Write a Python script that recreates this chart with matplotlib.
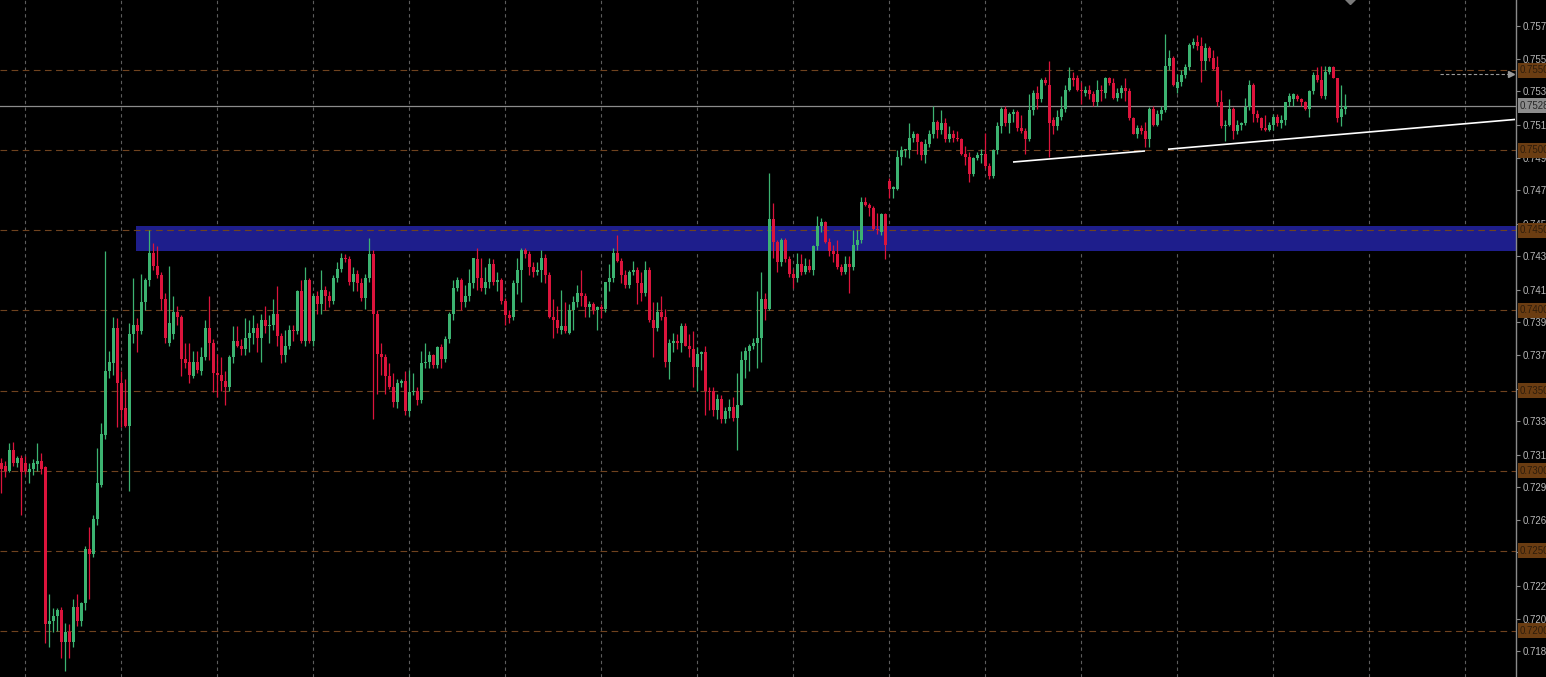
import numpy as np
import matplotlib
matplotlib.use("Agg")
import matplotlib.pyplot as plt
from matplotlib.transforms import blended_transform_factory, offset_copy

plt.rcParams["font.family"] = ["Liberation Sans", "DejaVu Sans"]

# ---------------- data (prices) ----------------
opens = [
    0.7305, 0.7303, 0.7300, 0.7313, 0.7305, 0.7308, 0.7305, 0.7299, 0.7301, 0.7304,
    0.7306, 0.7302, 0.7204, 0.7206, 0.7209, 0.7213, 0.7193, 0.7199, 0.7193, 0.7215,
    0.7206, 0.7217, 0.7251, 0.7248, 0.7270, 0.7291, 0.7322, 0.7362, 0.7367, 0.7389,
    0.7355, 0.7339, 0.7328, 0.7385, 0.7391, 0.7387, 0.7405, 0.7419, 0.7436, 0.7428,
    0.7422, 0.7407, 0.7380, 0.7385, 0.7399, 0.7396, 0.7370, 0.7368, 0.7359, 0.7368,
    0.7362, 0.7371, 0.7389, 0.7380, 0.7361, 0.7360, 0.7356, 0.7352, 0.7371, 0.7381,
    0.7378, 0.7376, 0.7383, 0.7386, 0.7389, 0.7383, 0.7394, 0.7390, 0.7391, 0.7398,
    0.7384, 0.7372, 0.7378, 0.7388, 0.7387, 0.7412, 0.7381, 0.7419, 0.7381, 0.7409,
    0.7404, 0.7413, 0.7409, 0.7406, 0.7420, 0.7426, 0.7433, 0.7432, 0.7418, 0.7423,
    0.7417, 0.7408, 0.7420, 0.7435, 0.7398, 0.7373, 0.7371, 0.7359, 0.7352, 0.7343,
    0.7355, 0.7356, 0.7337, 0.7349, 0.7350, 0.7344, 0.7367, 0.7368, 0.7372, 0.7366,
    0.7377, 0.7370, 0.7382, 0.7398, 0.7414, 0.7419, 0.7405, 0.7409, 0.7417, 0.7432,
    0.7420, 0.7414, 0.7418, 0.7429, 0.7418, 0.7419, 0.7406, 0.7397, 0.7396, 0.7417,
    0.7425, 0.7438, 0.7435, 0.7427, 0.7424, 0.7425, 0.7433, 0.7422, 0.7396, 0.7394,
    0.7388, 0.7390, 0.7386, 0.7400, 0.7405, 0.7411, 0.7409, 0.7402, 0.7404, 0.7400,
    0.7402, 0.7401, 0.7418, 0.7420, 0.7436, 0.7431, 0.7422, 0.7416, 0.7424, 0.7425,
    0.7417, 0.7411, 0.7425, 0.7394, 0.7389, 0.7399, 0.7396, 0.7368, 0.7380, 0.7381,
    0.7380, 0.7390, 0.7378, 0.7376, 0.7365, 0.7373, 0.7374, 0.7350, 0.7350, 0.7338,
    0.7345, 0.7332, 0.7337, 0.7340, 0.7333, 0.7341, 0.7369, 0.7375, 0.7378, 0.7380,
    0.7383, 0.7407, 0.7401, 0.7457, 0.7443, 0.7430, 0.7444, 0.7432, 0.7423, 0.7420,
    0.7429, 0.7424, 0.7428, 0.7425, 0.7440, 0.7453, 0.7455, 0.7443, 0.7437, 0.7435,
    0.7427, 0.7424, 0.7429, 0.7427, 0.7441, 0.7444, 0.7468, 0.7466, 0.7464, 0.7451,
    0.7449, 0.7460, 0.7481, 0.7476, 0.7476, 0.7496, 0.7500, 0.7500, 0.7508, 0.7510,
    0.7505, 0.7497, 0.7504, 0.7510, 0.7518, 0.7513, 0.7517, 0.7507, 0.7510, 0.7508,
    0.7507, 0.7498, 0.7496, 0.7485, 0.7495, 0.7497, 0.7498, 0.7490, 0.7484, 0.7500,
    0.7515, 0.7526, 0.7517, 0.7523, 0.7524, 0.7514, 0.7512, 0.7507, 0.7525, 0.7536,
    0.7532, 0.7544, 0.7541, 0.7519, 0.7515, 0.7521, 0.7526, 0.7538, 0.7545, 0.7545,
    0.7538, 0.7536, 0.7538, 0.7535, 0.7530, 0.7538, 0.7536, 0.7545, 0.7542, 0.7533,
    0.7536, 0.7539, 0.7537, 0.7520, 0.7510, 0.7514, 0.7512, 0.7507, 0.7526, 0.7516,
    0.7523, 0.7525, 0.7553, 0.7558, 0.7539, 0.7543, 0.7547, 0.7552, 0.7566, 0.7568,
    0.7565, 0.7556, 0.7564, 0.7558, 0.7552, 0.7530, 0.7515, 0.7516, 0.7526, 0.7512,
    0.7516, 0.7517, 0.7527, 0.7541, 0.7523, 0.7520, 0.7514, 0.7513, 0.7516, 0.7521,
    0.7517, 0.7519, 0.7530, 0.7532, 0.7534, 0.7532, 0.7530, 0.7526, 0.7537, 0.7547,
    0.7544, 0.7534, 0.7549, 0.7552, 0.7545, 0.7521, 0.7526,
]
highs = [
    0.7308, 0.7306, 0.7317, 0.7318, 0.7309, 0.7310, 0.7309, 0.7305, 0.7307, 0.7317,
    0.7311, 0.7303, 0.7223, 0.7214, 0.7214, 0.7215, 0.7205, 0.7204, 0.7220, 0.7223,
    0.7218, 0.7253, 0.7265, 0.7272, 0.7314, 0.7330, 0.7437, 0.7375, 0.7396, 0.7395,
    0.7362, 0.7357, 0.7392, 0.7420, 0.7395, 0.7423, 0.7420, 0.7450, 0.7442, 0.7440,
    0.7424, 0.7411, 0.7428, 0.7409, 0.7403, 0.7397, 0.7380, 0.7380, 0.7375, 0.7375,
    0.7377, 0.7394, 0.7409, 0.7382, 0.7373, 0.7371, 0.7362, 0.7372, 0.7390, 0.7390,
    0.7382, 0.7395, 0.7394, 0.7397, 0.7392, 0.7398, 0.7403, 0.7397, 0.7407, 0.7415,
    0.7386, 0.7388, 0.7391, 0.7391, 0.7413, 0.7419, 0.7427, 0.7420, 0.7411, 0.7412,
    0.7425, 0.7415, 0.7412, 0.7422, 0.7430, 0.7436, 0.7435, 0.7434, 0.7427, 0.7425,
    0.7420, 0.7423, 0.7445, 0.7438, 0.7400, 0.7380, 0.7373, 0.7367, 0.7361, 0.7357,
    0.7357, 0.7362, 0.7363, 0.7361, 0.7352, 0.7375, 0.7380, 0.7375, 0.7373, 0.7378,
    0.7379, 0.7384, 0.7399, 0.7419, 0.7421, 0.7420, 0.7416, 0.7426, 0.7433, 0.7439,
    0.7433, 0.7427, 0.7433, 0.7432, 0.7424, 0.7420, 0.7408, 0.7400, 0.7419, 0.7433,
    0.7439, 0.7439, 0.7437, 0.7430, 0.7430, 0.7438, 0.7435, 0.7424, 0.7407, 0.7403,
    0.7413, 0.7405, 0.7404, 0.7409, 0.7416, 0.7425, 0.7411, 0.7406, 0.7405, 0.7403,
    0.7404, 0.7418, 0.7429, 0.7439, 0.7447, 0.7433, 0.7425, 0.7425, 0.7431, 0.7427,
    0.7424, 0.7431, 0.7427, 0.7405, 0.7405, 0.7409, 0.7401, 0.7382, 0.7386, 0.7385,
    0.7392, 0.7392, 0.7385, 0.7387, 0.7377, 0.7375, 0.7378, 0.7352, 0.7352, 0.7348,
    0.7347, 0.7340, 0.7345, 0.7346, 0.7361, 0.7375, 0.7377, 0.7379, 0.7383, 0.7412,
    0.7424, 0.7411, 0.7486, 0.7467, 0.7444, 0.7445, 0.7445, 0.7434, 0.7426, 0.7436,
    0.7435, 0.7433, 0.7432, 0.7441, 0.7459, 0.7458, 0.7456, 0.7445, 0.7441, 0.7444,
    0.7429, 0.7434, 0.7434, 0.7450, 0.7450, 0.7471, 0.7471, 0.7467, 0.7465, 0.7461,
    0.7461, 0.7461, 0.7483, 0.7478, 0.7500, 0.7503, 0.7501, 0.7517, 0.7512, 0.7511,
    0.7506, 0.7507, 0.7513, 0.7528, 0.7519, 0.7525, 0.7520, 0.7515, 0.7513, 0.7512,
    0.7508, 0.7503, 0.7499, 0.7496, 0.7499, 0.7501, 0.7511, 0.7492, 0.7501, 0.7518,
    0.7527, 0.7528, 0.7524, 0.7526, 0.7525, 0.7522, 0.7514, 0.7535, 0.7538, 0.7540,
    0.7545, 0.7546, 0.7556, 0.7521, 0.7525, 0.7534, 0.7541, 0.7552, 0.7549, 0.7547,
    0.7543, 0.7540, 0.7541, 0.7537, 0.7544, 0.7541, 0.7546, 0.7546, 0.7545, 0.7539,
    0.7541, 0.7545, 0.7539, 0.7521, 0.7516, 0.7516, 0.7518, 0.7527, 0.7528, 0.7525,
    0.7528, 0.7573, 0.7563, 0.7559, 0.7548, 0.7550, 0.7554, 0.7567, 0.7570, 0.7572,
    0.7571, 0.7567, 0.7565, 0.7563, 0.7559, 0.7538, 0.7519, 0.7532, 0.7527, 0.7519,
    0.7518, 0.7533, 0.7544, 0.7542, 0.7525, 0.7521, 0.7522, 0.7518, 0.7523, 0.7523,
    0.7522, 0.7530, 0.7536, 0.7536, 0.7535, 0.7533, 0.7531, 0.7538, 0.7549, 0.7552,
    0.7553, 0.7553, 0.7553, 0.7553, 0.7545, 0.7541, 0.7535,
]
lows = [
    0.7286, 0.7296, 0.7299, 0.7303, 0.7302, 0.7272, 0.7298, 0.7292, 0.7297, 0.7300,
    0.7298, 0.7192, 0.7190, 0.7199, 0.7200, 0.7183, 0.7175, 0.7183, 0.7190, 0.7203,
    0.7203, 0.7213, 0.7220, 0.7246, 0.7266, 0.7290, 0.7320, 0.7358, 0.7360, 0.7327,
    0.7327, 0.7327, 0.7287, 0.7380, 0.7374, 0.7385, 0.7400, 0.7415, 0.7425, 0.7420,
    0.7400, 0.7380, 0.7378, 0.7382, 0.7391, 0.7359, 0.7364, 0.7355, 0.7358, 0.7361,
    0.7360, 0.7369, 0.7369, 0.7349, 0.7346, 0.7350, 0.7341, 0.7350, 0.7367, 0.7377,
    0.7372, 0.7372, 0.7374, 0.7379, 0.7374, 0.7368, 0.7386, 0.7380, 0.7388, 0.7378,
    0.7367, 0.7368, 0.7376, 0.7381, 0.7385, 0.7380, 0.7378, 0.7380, 0.7378, 0.7398,
    0.7398, 0.7400, 0.7402, 0.7404, 0.7418, 0.7424, 0.7430, 0.7416, 0.7412, 0.7412,
    0.7406, 0.7401, 0.7418, 0.7332, 0.7348, 0.7360, 0.7348, 0.7351, 0.7340, 0.7339,
    0.7352, 0.7335, 0.7334, 0.7347, 0.7341, 0.7342, 0.7364, 0.7364, 0.7364, 0.7364,
    0.7364, 0.7368, 0.7380, 0.7394, 0.7412, 0.7400, 0.7402, 0.7406, 0.7414, 0.7413,
    0.7412, 0.7410, 0.7414, 0.7416, 0.7412, 0.7404, 0.7391, 0.7392, 0.7394, 0.7410,
    0.7405, 0.7433, 0.7422, 0.7421, 0.7422, 0.7418, 0.7417, 0.7395, 0.7383, 0.7386,
    0.7385, 0.7386, 0.7385, 0.7388, 0.7402, 0.7403, 0.7396, 0.7396, 0.7398, 0.7388,
    0.7395, 0.7399, 0.7412, 0.7418, 0.7430, 0.7417, 0.7414, 0.7414, 0.7422, 0.7404,
    0.7406, 0.7409, 0.7393, 0.7371, 0.7387, 0.7394, 0.7365, 0.7357, 0.7374, 0.7376,
    0.7374, 0.7378, 0.7371, 0.7352, 0.7350, 0.7363, 0.7335, 0.7338, 0.7334, 0.7332,
    0.7330, 0.7330, 0.7333, 0.7331, 0.7313, 0.7341, 0.7358, 0.7362, 0.7376, 0.7364,
    0.7368, 0.7394, 0.7400, 0.7433, 0.7424, 0.7428, 0.7430, 0.7421, 0.7414, 0.7418,
    0.7422, 0.7423, 0.7424, 0.7422, 0.7438, 0.7449, 0.7442, 0.7434, 0.7430, 0.7426,
    0.7422, 0.7423, 0.7411, 0.7425, 0.7438, 0.7442, 0.7465, 0.7459, 0.7450, 0.7448,
    0.7447, 0.7432, 0.7470, 0.7470, 0.7475, 0.7491, 0.7496, 0.7495, 0.7505, 0.7498,
    0.7494, 0.7492, 0.7502, 0.7508, 0.7508, 0.7510, 0.7505, 0.7505, 0.7505, 0.7506,
    0.7497, 0.7491, 0.7480, 0.7484, 0.7494, 0.7492, 0.7489, 0.7482, 0.7483, 0.7498,
    0.7511, 0.7515, 0.7511, 0.7518, 0.7512, 0.7511, 0.7498, 0.7506, 0.7522, 0.7526,
    0.7530, 0.7541, 0.7496, 0.7510, 0.7513, 0.7519, 0.7524, 0.7537, 0.7540, 0.7537,
    0.7529, 0.7534, 0.7532, 0.7528, 0.7528, 0.7531, 0.7533, 0.7541, 0.7532, 0.7531,
    0.7533, 0.7531, 0.7519, 0.7510, 0.7508, 0.7510, 0.7502, 0.7502, 0.7515, 0.7515,
    0.7519, 0.7524, 0.7550, 0.7540, 0.7536, 0.7540, 0.7545, 0.7550, 0.7564, 0.7563,
    0.7543, 0.7550, 0.7556, 0.7550, 0.7528, 0.7514, 0.7506, 0.7515, 0.7507, 0.7510,
    0.7513, 0.7516, 0.7525, 0.7518, 0.7518, 0.7513, 0.7512, 0.7512, 0.7513, 0.7515,
    0.7514, 0.7516, 0.7528, 0.7528, 0.7531, 0.7528, 0.7525, 0.7521, 0.7535, 0.7543,
    0.7533, 0.7532, 0.7548, 0.7545, 0.7518, 0.7515, 0.7523,
]
closes = [
    0.7301, 0.7300, 0.7313, 0.7305, 0.7308, 0.7299, 0.7300, 0.7301, 0.7305, 0.7306,
    0.7301, 0.7204, 0.7206, 0.7209, 0.7213, 0.7193, 0.7199, 0.7193, 0.7215, 0.7206,
    0.7217, 0.7251, 0.7248, 0.7270, 0.7292, 0.7323, 0.7362, 0.7368, 0.7389, 0.7355,
    0.7338, 0.7328, 0.7385, 0.7391, 0.7387, 0.7405, 0.7419, 0.7436, 0.7428, 0.7422,
    0.7407, 0.7383, 0.7392, 0.7399, 0.7396, 0.7370, 0.7367, 0.7360, 0.7368, 0.7363,
    0.7371, 0.7389, 0.7380, 0.7361, 0.7360, 0.7356, 0.7352, 0.7371, 0.7381, 0.7378,
    0.7376, 0.7383, 0.7386, 0.7389, 0.7383, 0.7394, 0.7390, 0.7391, 0.7398, 0.7384,
    0.7372, 0.7378, 0.7388, 0.7387, 0.7412, 0.7381, 0.7419, 0.7381, 0.7409, 0.7404,
    0.7413, 0.7409, 0.7406, 0.7420, 0.7426, 0.7433, 0.7432, 0.7418, 0.7423, 0.7417,
    0.7408, 0.7420, 0.7435, 0.7398, 0.7373, 0.7371, 0.7359, 0.7352, 0.7343, 0.7355,
    0.7356, 0.7337, 0.7349, 0.7350, 0.7344, 0.7367, 0.7368, 0.7372, 0.7366, 0.7377,
    0.7370, 0.7382, 0.7398, 0.7414, 0.7419, 0.7405, 0.7409, 0.7417, 0.7433, 0.7420,
    0.7414, 0.7418, 0.7429, 0.7418, 0.7419, 0.7406, 0.7397, 0.7395, 0.7417, 0.7425,
    0.7438, 0.7435, 0.7427, 0.7424, 0.7425, 0.7433, 0.7422, 0.7396, 0.7394, 0.7389,
    0.7390, 0.7387, 0.7400, 0.7405, 0.7411, 0.7409, 0.7402, 0.7404, 0.7400, 0.7402,
    0.7401, 0.7418, 0.7420, 0.7436, 0.7431, 0.7422, 0.7416, 0.7424, 0.7425, 0.7417,
    0.7411, 0.7425, 0.7394, 0.7389, 0.7399, 0.7396, 0.7368, 0.7380, 0.7381, 0.7380,
    0.7390, 0.7378, 0.7376, 0.7365, 0.7373, 0.7374, 0.7350, 0.7349, 0.7338, 0.7345,
    0.7332, 0.7337, 0.7340, 0.7333, 0.7341, 0.7369, 0.7375, 0.7378, 0.7380, 0.7383,
    0.7407, 0.7401, 0.7457, 0.7443, 0.7430, 0.7444, 0.7432, 0.7423, 0.7420, 0.7429,
    0.7424, 0.7428, 0.7425, 0.7440, 0.7453, 0.7455, 0.7443, 0.7437, 0.7435, 0.7427,
    0.7424, 0.7429, 0.7427, 0.7441, 0.7444, 0.7468, 0.7466, 0.7464, 0.7451, 0.7450,
    0.7460, 0.7441, 0.7476, 0.7477, 0.7496, 0.7500, 0.7501, 0.7508, 0.7510, 0.7505,
    0.7497, 0.7504, 0.7510, 0.7518, 0.7513, 0.7517, 0.7507, 0.7510, 0.7508, 0.7507,
    0.7498, 0.7496, 0.7485, 0.7495, 0.7497, 0.7498, 0.7490, 0.7484, 0.7500, 0.7515,
    0.7526, 0.7517, 0.7523, 0.7524, 0.7514, 0.7512, 0.7507, 0.7525, 0.7536, 0.7532,
    0.7544, 0.7542, 0.7517, 0.7515, 0.7521, 0.7526, 0.7538, 0.7545, 0.7544, 0.7538,
    0.7537, 0.7538, 0.7535, 0.7530, 0.7538, 0.7537, 0.7545, 0.7542, 0.7533, 0.7536,
    0.7539, 0.7537, 0.7520, 0.7510, 0.7514, 0.7512, 0.7507, 0.7526, 0.7516, 0.7523,
    0.7525, 0.7553, 0.7558, 0.7541, 0.7543, 0.7547, 0.7552, 0.7566, 0.7568, 0.7565,
    0.7556, 0.7564, 0.7558, 0.7551, 0.7530, 0.7515, 0.7516, 0.7526, 0.7512, 0.7516,
    0.7517, 0.7527, 0.7541, 0.7523, 0.7520, 0.7514, 0.7513, 0.7516, 0.7521, 0.7517,
    0.7519, 0.7530, 0.7534, 0.7535, 0.7532, 0.7530, 0.7526, 0.7537, 0.7547, 0.7544,
    0.7534, 0.7549, 0.7552, 0.7545, 0.7520, 0.7526, 0.7528,
]

# right price-axis tick labels
axis_ticks = [0.7578, 0.7557, 0.7537, 0.7516, 0.7495, 0.7475, 0.7454, 0.7434,
              0.7413, 0.7393, 0.7372, 0.7351, 0.7331, 0.7310, 0.7290, 0.7269,
              0.7249, 0.7228, 0.7207, 0.7187]
# round-number levels (brown dashed, orange labels)
round_levels = [0.7550, 0.7500, 0.7450, 0.7400, 0.7350, 0.7300, 0.7250, 0.7200]
# supply/demand zone
zone_low, zone_high = 0.74372, 0.74528
zone_start_bar = 34
# trend lines: (bar, price) pairs
trend_a = ([253, 286], [0.74928, 0.74997])
trend_b = ([291.75, 378.5], [0.75008, 0.75194])
# pending level marker (dashed with arrow)
marker_level = 0.7548
marker_bars = [359.75, 377.6]

# ---------------- styling ----------------
BG = "#000000"
GREEN = "#3cb371"
RED = "#dc143c"
ZONE = "#1e1e8c"
BROWN = "#70431f"
GRID = "#5c5c5c"
AXIS = "#8a8a8a"

W, H = 1546, 677
fig = plt.figure(figsize=(W / 100, H / 100), dpi=100, facecolor=BG)
ax = fig.add_axes([0, 0, 1516 / W, 1])
ax.set_facecolor(BG)

n = len(closes)
x = np.arange(n)
o = np.array(opens)
h = np.array(highs)
l = np.array(lows)
c = np.array(closes)
up = c >= o
cols = np.where(up, GREEN, RED)

ax.set_xlim(-0.25, 378.75)
ax.set_ylim(0.717094, 0.759406)

# vertical dashed grid
for gx in range(6, 379, 24):
    ax.axvline(gx, color=GRID, lw=0.8, ls=(0, (3, 3)), zorder=1)

# zone
ax.fill_between([zone_start_bar - 0.25, 378.75], zone_low, zone_high,
                color=ZONE, lw=0, zorder=1.5)

# round levels
for lv in round_levels:
    ax.axhline(lv, color=BROWN, lw=0.8, ls=(0, (6, 4)), zorder=2)

# current price line
last = closes[-1]
ax.axhline(last, color="#8c8c8c", lw=0.9, zorder=2.2)

# candles
ax.vlines(x, l, h, colors=cols, lw=0.9, zorder=3)
body_bottom = np.minimum(o, c)
body_h = np.maximum(np.abs(c - o), 0.00003)
ax.bar(x, body_h, bottom=body_bottom, width=0.75, color=cols, lw=0, zorder=4)

# trend lines
ax.plot(trend_a[0], trend_a[1], color="white", lw=1.2, zorder=5,
        solid_capstyle="butt")
ax.plot(trend_b[0], trend_b[1], color="white", lw=1.2, zorder=5,
        solid_capstyle="butt")

# dashed arrow level
ax.plot(marker_bars, [marker_level, marker_level], color="#9a9a9a", lw=0.8,
        ls=(0, (3, 2)), zorder=5)
ax.plot([marker_bars[1]], [marker_level], marker=">", ms=5, color="#9a9a9a",
        zorder=5, clip_on=False)

# small marker at the top edge
ax.plot([337.25], [0.75952], marker="D", ms=6, color="#7a7a7a", zorder=5,
        clip_on=False)

# axis styling
for s in ["top", "left", "bottom"]:
    ax.spines[s].set_visible(False)
ax.spines["right"].set_color(AXIS)
ax.spines["right"].set_linewidth(1.0)
ax.set_xticks([])
ax.yaxis.tick_right()
ax.set_yticks(axis_ticks)
ax.set_yticklabels([f"{v:.4f}" for v in axis_ticks])
ax.tick_params(axis="y", colors=AXIS, labelcolor="#b8b8b8", labelsize=7,
               length=3, width=0.8, pad=2, direction="out")

trans = blended_transform_factory(ax.transAxes, ax.transData)
trans_off = offset_copy(trans, fig=fig, x=4, y=0, units="dots")
for lv in round_levels:
    ax.text(1.0, lv, f"{lv:.4f}", transform=trans_off, ha="left", va="center",
            fontsize=7, color="#2e1d0c", zorder=6, clip_on=False,
            bbox=dict(boxstyle="square,pad=0.25", fc="#6b3d12", ec="none"))
ax.text(1.0, last, f"{last:.4f}", transform=trans_off, ha="left", va="center",
        fontsize=7, color="#262626", zorder=6, clip_on=False,
        bbox=dict(boxstyle="square,pad=0.25", fc="#8c8c8c", ec="none"))

fig.savefig("out.png", dpi=100, facecolor=BG)
